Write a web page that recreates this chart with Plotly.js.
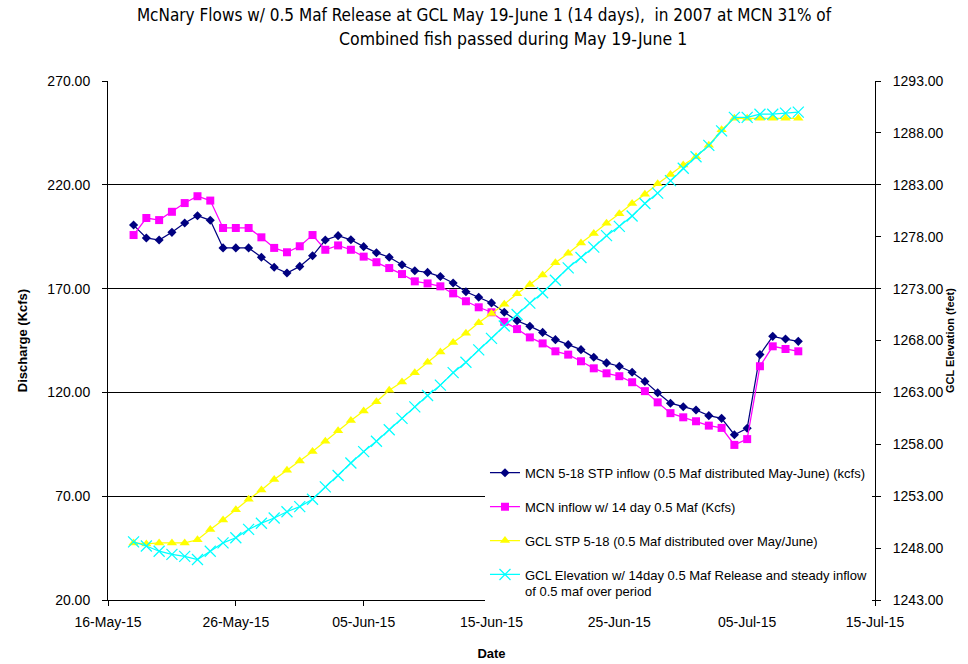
<!DOCTYPE html>
<html>
<head>
<meta charset="utf-8">
<script src="https://cdn.plot.ly/plotly-3.0.1.min.js"></script>
<style>html,body{margin:0;padding:0;background:#fff;}#chart{width:968px;height:664px;}</style>
</head>
<body>
<div id="chart"></div>
<script>
// Dates (daily, 18-May-2015 .. 09-Jul-2015)
const dates = [
 '2015-05-18','2015-05-19','2015-05-20','2015-05-21','2015-05-22','2015-05-23','2015-05-24','2015-05-25','2015-05-26','2015-05-27',
 '2015-05-28','2015-05-29','2015-05-30','2015-05-31','2015-06-01','2015-06-02','2015-06-03','2015-06-04','2015-06-05','2015-06-06',
 '2015-06-07','2015-06-08','2015-06-09','2015-06-10','2015-06-11','2015-06-12','2015-06-13','2015-06-14','2015-06-15','2015-06-16',
 '2015-06-17','2015-06-18','2015-06-19','2015-06-20','2015-06-21','2015-06-22','2015-06-23','2015-06-24','2015-06-25','2015-06-26',
 '2015-06-27','2015-06-28','2015-06-29','2015-06-30','2015-07-01','2015-07-02','2015-07-03','2015-07-04','2015-07-05','2015-07-06',
 '2015-07-07','2015-07-08','2015-07-09'];

// MCN 5-18 STP inflow (kcfs) - left axis
const mcnStp = [
 200.6,194.4,193.4,197.1,201.6,205.1,202.9,189.6,189.6,189.6,
 185.1,180.3,177.5,180.7,185.8,193.4,195.5,193.5,190.2,187.3,
 185.1,181.5,178.6,177.8,175.8,172.7,168.5,165.8,163.1,158.6,
 154.5,151.9,148.9,145.4,143.0,140.6,136.9,134.2,132.6,129.7,
 125.3,119.8,114.8,113.1,111.5,108.8,107.5,99.6,102.7,138.2,
 147.0,145.7,144.6];

// MCN inflow w/ 14 day 0.5 Maf (kcfs) - left axis
const mcnInflow = [
 195.8,204.0,203.0,207.0,211.2,214.5,212.4,199.2,199.2,199.2,
 194.7,189.6,187.5,190.4,195.8,188.7,190.8,188.7,185.4,182.7,
 179.9,177.0,173.5,172.5,171.1,167.7,163.9,161.0,158.6,154.0,
 150.5,146.5,143.6,139.8,138.2,135.0,131.6,129.2,127.8,124.9,
 120.6,115.2,110.0,108.0,106.1,104.0,102.9,94.7,97.5,132.6,
 142.2,140.9,139.8];

// GCL STP 5-18 elevation (feet) - right axis
const gclStp = [
 1248.5,1248.4,1248.5,1248.5,1248.5,1248.8,1249.8,1250.7,1251.7,1252.7,
 1253.6,1254.6,1255.5,1256.4,1257.3,1258.3,1259.3,1260.3,1261.2,1262.1,
 1263.2,1264.0,1264.9,1265.9,1266.9,1267.8,1268.7,1269.7,1270.6,1271.5,
 1272.5,1273.4,1274.3,1275.5,1276.4,1277.4,1278.3,1279.3,1280.2,1281.2,
 1282.1,1283.1,1284.0,1284.9,1285.7,1286.8,1288.3,1289.4,1289.4,1289.4,
 1289.4,1289.4,1289.4];

// GCL Elevation w/ 14day 0.5 Maf release (feet) - right axis
const gclElev = [
 1248.6,1248.2,1247.7,1247.4,1247.2,1246.9,1247.7,1248.5,1249.0,1249.8,
 1250.4,1250.9,1251.5,1252.0,1252.7,1253.9,1255.0,1256.2,1257.3,1258.3,
 1259.4,1260.5,1261.6,1262.7,1263.7,1264.9,1265.9,1267.1,1268.2,1269.4,
 1270.5,1271.6,1272.6,1273.8,1275.0,1276.0,1277.0,1278.1,1279.0,1280.0,
 1281.2,1282.2,1283.4,1284.6,1285.7,1286.8,1288.2,1289.5,1289.5,1289.8,
 1289.8,1289.9,1290.0];

const seriesNames = [
 'MCN 5-18 STP inflow (0.5 Maf distributed May-June) (kcfs)',
 'MCN inflow w/ 14 day 0.5 Maf (Kcfs)',
 'GCL STP 5-18 (0.5 Maf distributed over May/June)',
 'GCL Elevation w/ 14day 0.5 Maf Release and steady inflow<br>of 0.5 maf over period'
];

const titleLines = [
 'McNary Flows w/ 0.5 Maf Release at GCL May 19-June 1 (14 days),  in 2007 at MCN 31% of',
 'Combined fish passed during May 19-June 1'
];

const F = '"Liberation Sans", Arial, sans-serif';
const TF = '"Liberation Sans Narrow", "DejaVu Sans Condensed", "Liberation Sans", Arial, sans-serif';

const traces = [
 {x: dates, y: mcnStp, name: seriesNames[0], yaxis: 'y', legendgroup: 'a', mode: 'lines+markers',
  line: {color: '#000080', width: 1.25}, marker: {symbol: 'diamond', size: 7, color: '#000080'}},
 {x: dates, y: mcnInflow, name: seriesNames[1], yaxis: 'y', legendgroup: 'b', mode: 'lines+markers',
  line: {color: '#FF00FF', width: 1.25}, marker: {symbol: 'square', size: 8, color: '#FF00FF'}},
 {x: dates, y: gclStp, name: seriesNames[2], yaxis: 'y2', legendgroup: 'c', mode: 'lines+markers',
  line: {color: '#FFFF00', width: 1.25}, marker: {symbol: 'triangle-up', size: 9, color: '#FFFF00'}},
 {x: dates, y: gclElev, name: seriesNames[3], yaxis: 'y2', legendgroup: 'd', mode: 'lines+markers',
  line: {color: '#00FFFF', width: 1.25}, marker: {symbol: 'x-thin', size: 11, color: '#00FFFF', line: {color: '#00FFFF', width: 1.25}}}
];

const layout = {
 width: 968, height: 664,
 paper_bgcolor: '#fff', plot_bgcolor: '#fff',
 margin: {l: 107.5, r: 92.5, t: 81, b: 64, pad: 0},
 font: {family: F, color: '#000'},
 title: {
  text: titleLines[0],
  font: {family: TF, size: 17, color: '#000'},
  x: 0.5, xanchor: 'center', xref: 'container', yref: 'container', y: 0.977, yanchor: 'middle'
 },
 annotations: [{
  text: titleLines[1], showarrow: false,
  xref: 'paper', yref: 'paper', x: 0.528, y: 1.0815, xanchor: 'center', yanchor: 'middle',
  font: {family: TF, size: 17.5, color: '#000'}
 }],
 xaxis: {
  type: 'date',
  range: ['2015-05-16', '2015-07-15'],
  tick0: '2015-05-16', dtick: 864000000,
  tickformat: '%d-%b-%y',
  showgrid: false, zeroline: false,
  showline: true, linecolor: '#000', linewidth: 1,
  ticks: 'outside', ticklen: 5, tickcolor: '#000',
  ticklabelstandoff: 4,
  tickfont: {family: F, size: 14, color: '#000'},
  title: {text: 'Date', font: {family: F, size: 13, color: '#000', weight: 'bold'}, standoff: 20}
 },
 yaxis: {
  range: [20, 270], dtick: 50, tick0: 20,
  tickformat: '.2f',
  showgrid: true, gridcolor: '#000', gridwidth: 1,
  zeroline: false,
  showline: true, linecolor: '#000', linewidth: 1,
  ticks: 'outside', ticklen: 5, tickcolor: '#000',
  ticklabelstandoff: 9,
  tickfont: {family: F, size: 14, color: '#000'},
  title: {text: 'Discharge (Kcfs)', font: {family: F, size: 13, color: '#000', weight: 'bold'}, standoff: 16}
 },
 yaxis2: {
  overlaying: 'y', side: 'right',
  range: [1243, 1293], dtick: 5, tick0: 1243,
  tickformat: '.2f',
  showgrid: false, zeroline: false,
  showline: true, linecolor: '#000', linewidth: 1,
  ticks: 'outside', ticklen: 5, tickcolor: '#000',
  ticklabelstandoff: 9,
  tickfont: {family: F, size: 14, color: '#000'},
  title: {text: 'GCL Elevation (feet)', font: {family: F, size: 11, color: '#000', weight: 'bold'}, standoff: 2}
 },
 showlegend: true,
 legend: {
  x: 0.4915, xanchor: 'left', y: 0.274, yanchor: 'top',
  bgcolor: '#fff', borderwidth: 0,
  font: {family: F, size: 13, color: '#000'},
  traceorder: 'grouped', tracegroupgap: 14,
  valign: 'top', itemwidth: 30
 }
};

Plotly.newPlot('chart', traces, layout, {displayModeBar: false, staticPlot: true});
</script>
</body>
</html>
